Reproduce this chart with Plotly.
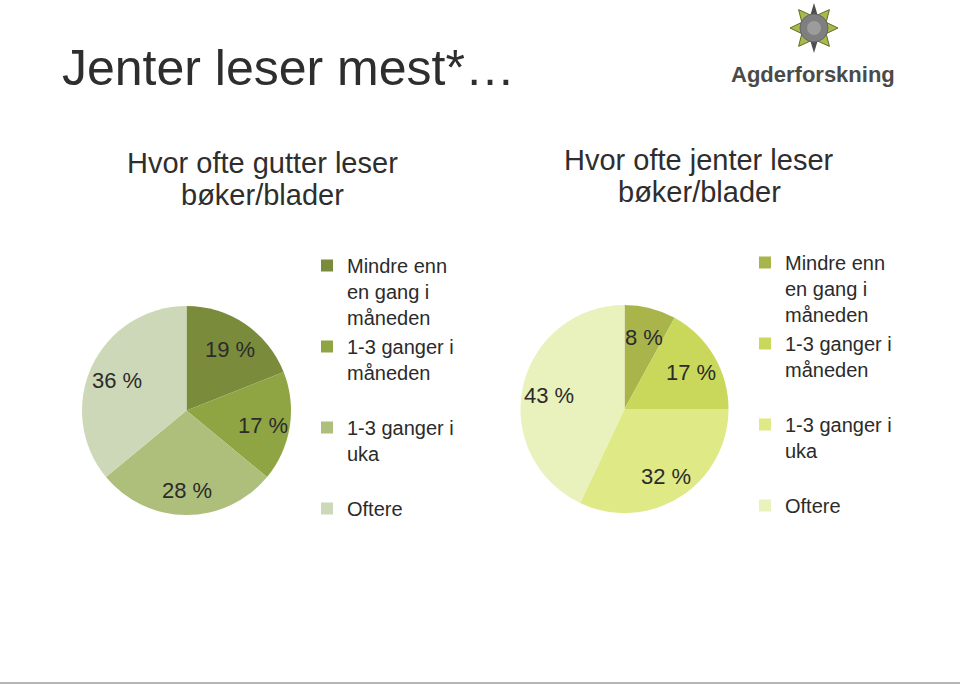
import math
import plotly.graph_objects as go

W, H = 960, 685

# ---------------- data ----------------
categories = ["Mindre enn en gang i måneden", "1-3 ganger i måneden", "1-3 ganger i uka", "Oftere"]
legend_lines = [["Mindre enn", "en gang i", "måneden"],
                ["1-3 ganger i", "måneden"],
                ["1-3 ganger i", "uka"],
                ["Oftere"]]
gutter_values = [19, 17, 28, 36]
jenter_values = [8, 17, 32, 43]
gutter_colors = ["#7a8b3b", "#8fa543", "#adbf7b", "#cdd8b8"]
jenter_colors = ["#a9b54b", "#c9d85b", "#dfe985", "#e9f1bd"]

main_title = "Jenter leser mest*…"
gutter_title = ["Hvor ofte gutter leser", "bøker/blader"]
jenter_title = ["Hvor ofte jenter leser", "bøker/blader"]
logo_text = "Agderforskning"

FONT = "Liberation Sans, Arial, sans-serif"
TXT = "#2b2b2b"


def px(x):
    return x / W


def py(y):
    return 1 - y / H


def legend_label(lines, suffix="", n=3):
    lines = list(lines) + ["\u00a0"] * (n - len(lines))
    return "<br>".join(lines) + suffix


# pie geometry (pixels)
pies = [
    dict(values=gutter_values, colors=gutter_colors, cx=186.5, cy=410.5, r=104.5,
         legend="legend", suffix=""),
    dict(values=jenter_values, colors=jenter_colors, cx=624.5, cy=409.0, r=104.0,
         legend="legend2", suffix="\u200b"),
]

fig = go.Figure()
annotations = []
for p in pies:
    cx, cy, r = p["cx"], p["cy"], p["r"]
    fig.add_trace(go.Pie(
        labels=[legend_label(l, p["suffix"]) for l in legend_lines],
        values=p["values"],
        marker=dict(colors=p["colors"], line=dict(width=0)),
        sort=False,
        direction="clockwise",
        rotation=0,
        textinfo="none",
        hoverinfo="skip",
        domain=dict(x=[px(cx - r), px(cx + r)], y=[py(cy + r), py(cy - r)]),
        legend=p["legend"],
        showlegend=True,
    ))
    total = sum(p["values"])
    cum = 0
    for v in p["values"]:
        mid = (cum + v / 2) / total * 2 * math.pi
        cum += v
        rr = 0.74 * r
        lx = cx + rr * math.sin(mid)
        ly = cy - rr * math.cos(mid) + 3
        annotations.append(dict(
            x=px(lx), y=py(ly), xref="paper", yref="paper",
            text=f"{v} %", showarrow=False,
            font=dict(family=FONT, size=22, color=TXT),
            xanchor="center", yanchor="middle"))

# titles
annotations.append(dict(x=px(60), y=py(68), xref="paper", yref="paper", text=main_title,
                        showarrow=False, xanchor="left", yanchor="middle",
                        font=dict(family=FONT, size=50, color="#2e2e2e")))
for cxp, lines, y0 in ((262, gutter_title, 163), (699, jenter_title, 160)):
    for k, line in enumerate(lines):
        annotations.append(dict(x=px(cxp), y=py(y0 + 32 * k), xref="paper", yref="paper",
                                text=line, showarrow=False, xanchor="center", yanchor="middle",
                                font=dict(family=FONT, size=29, color="#2e2e2e")))
annotations.append(dict(x=px(813), y=py(75), xref="paper", yref="paper", text=f"<b>{logo_text}</b>",
                        showarrow=False, xanchor="center", yanchor="middle",
                        font=dict(family=FONT, size=22, color="#4a4a4a")))

# logo icon (decoration)
shapes = []
lcx, lcy = 814.0, 28.0


def star_pt(angle_deg, rad):
    a = math.radians(angle_deg)
    return px(lcx + rad * math.sin(a)), py(lcy - rad * math.cos(a))


def tri_path(angle, r_base, half, r_apex):
    p1 = star_pt(angle - half, r_base)
    p2 = star_pt(angle, r_apex)
    p3 = star_pt(angle + half, r_base)
    return f"M{p1[0]},{p1[1]} L{p2[0]},{p2[1]} L{p3[0]},{p3[1]} Z"


for ang in (0, 180):
    shapes.append(dict(type="path", xref="paper", yref="paper", path=tri_path(ang, 12, 20, 25),
                       fillcolor="#4d4d4d", line=dict(width=0)))
for ang in (40, 90, 140, 220, 270, 320):
    shapes.append(dict(type="path", xref="paper", yref="paper", path=tri_path(ang, 12, 34, 24),
                       fillcolor="#a8ba4e", line=dict(color="#5f6e22", width=1)))
shapes.append(dict(type="circle", xref="paper", yref="paper",
                   x0=px(lcx - 14), x1=px(lcx + 14), y0=py(lcy + 14), y1=py(lcy - 14),
                   fillcolor="#7f7f7f", line=dict(color="#666666", width=1)))
shapes.append(dict(type="circle", xref="paper", yref="paper",
                   x0=px(lcx - 7), x1=px(lcx + 7), y0=py(lcy + 7), y1=py(lcy - 7),
                   fillcolor="#9c9c9c", line=dict(width=0)))
# bottom rule
shapes.append(dict(type="line", xref="paper", yref="paper", x0=0, x1=1, y0=py(683), y1=py(683),
                   line=dict(color="#b5b5b5", width=2)))

legend_common = dict(
    orientation="v", xanchor="left", yanchor="top", valign="top",
    font=dict(family=FONT, size=20, color=TXT), bgcolor="rgba(0,0,0,0)",
    borderwidth=0, traceorder="normal", itemclick=False, itemdoubleclick=False,
)

fig.update_layout(
    width=W, height=H,
    margin=dict(l=0, r=0, t=0, b=0),
    paper_bgcolor="white", plot_bgcolor="white",
    showlegend=True,
    annotations=annotations,
    shapes=shapes,
    legend=dict(x=px(307), y=py(246), **legend_common),
    legend2=dict(x=px(745), y=py(243), **legend_common),
)

fig.write_html("out.html")
